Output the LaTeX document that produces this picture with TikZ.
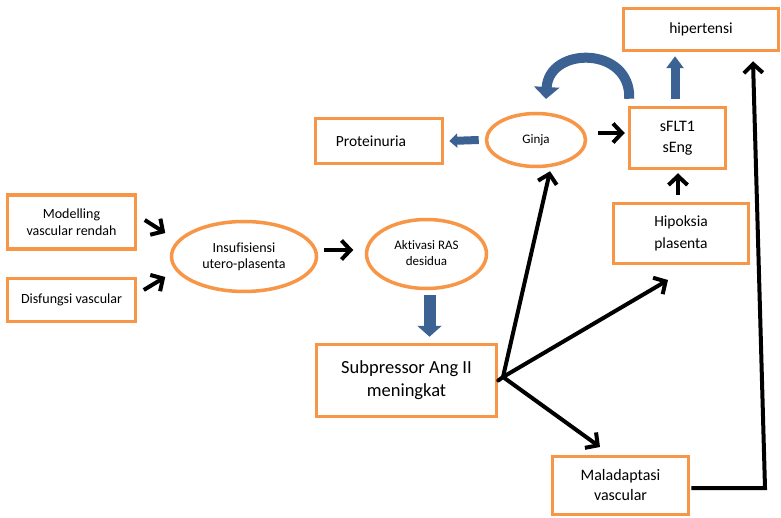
\documentclass[tikz,border=0pt]{standalone}
\usepackage{fontspec}
\setmainfont{Carlito}[Ligatures=NoCommon]
\usetikzlibrary{shapes.geometric,arrows.meta,calc}
\definecolor{orng}{RGB}{247,150,70}
\definecolor{blu}{RGB}{60,98,148}
\begin{document}
\begin{tikzpicture}[x=1pt,y=-1pt,
  box/.style={draw=orng,line width=3.5pt,fill=white,align=center,inner sep=0pt},
  oval/.style={ellipse,draw=orng,line width=3.5pt,fill=white,align=center,inner sep=0pt},
  arr/.style={line width=4pt,-{Straight Barb[length=9pt,width=19pt]}},
  bigblue/.style={draw=blu,line width=12pt,-{Triangle[width=24pt,length=11pt]}},
  smallblue/.style={draw=blu,line width=8pt,-{Triangle[width=14pt,length=8pt]}},
  upblue/.style={draw=blu,line width=9pt,-{Triangle[width=17pt,length=12pt]}},
  curvblue/.style={draw=blu,line width=10pt,-{Triangle[width=25pt,length=12pt]}}]
\useasboundingbox (0,0) rectangle (781,518);

% nodes
\node[box,minimum width=128pt,minimum height=54pt,font=\fontsize{14}{17}\selectfont] (mod) at (71.5,222) {Modelling\\vascular rendah};
\node[box,minimum width=128pt,minimum height=43pt,font=\fontsize{14}{17}\selectfont] (dis) at (71.5,300) {Disfungsi vascular};
\node[oval,minimum width=145pt,minimum height=70pt,font=\fontsize{14}{16}\selectfont] (insuf) at (244,256.5) {Insufisiensi\\utero-plasenta};
\node[oval,minimum width=120pt,minimum height=69pt,font=\fontsize{13}{16}\selectfont] (aktiv) at (426.5,254) {\raisebox{6pt}{\begin{tabular}{@{}c@{}}Aktivasi RAS\\desidua\end{tabular}}};
\node[box,minimum width=180pt,minimum height=72pt,font=\fontsize{18.5}{23}\selectfont] (subp) at (406.5,380.5) {Subpressor Ang II\\meningkat};
\node[box,minimum width=127pt,minimum height=45pt,font=\fontsize{15.5}{16}\selectfont] (prot) at (379,141) {Proteinuria\hspace*{16pt}};
\node[oval,minimum width=99pt,minimum height=53pt,font=\fontsize{13}{14}\selectfont] (ginja) at (536,140) {Ginja};
\node[box,minimum width=96pt,minimum height=61pt,font=\fontsize{16}{21}\selectfont] (sflt) at (677.5,138) {sFLT1\\sEng};
\node[box,minimum width=155pt,minimum height=42pt,font=\fontsize{15.5}{16}\selectfont] (hiper) at (701,29.5) {\raisebox{3pt}{hipertensi}};
\node[box,minimum width=135pt,minimum height=60pt,font=\fontsize{15.5}{22}\selectfont] (hipok) at (681,233.5) {Hipoksia\\plasenta};
\node[box,minimum width=136pt,minimum height=58pt,font=\fontsize{16}{20}\selectfont] (malad) at (620.5,485.5) {Maladaptasi\\vascular};

% black arrows
\draw[arr] ([shift={(7.5,-2)}]mod.east) -- ([shift={(-4.5,-23.5)}]insuf.west);
\draw[arr] ([shift={(6.5,-10)}]dis.east) -- ([shift={(-4.5,20.5)}]insuf.west);
\draw[arr] ([shift={(5.5,-6.5)}]insuf.east) -- ([shift={(-11.5,-4)}]aktiv.west);
\draw[arr] ([shift={(11,-7)}]ginja.east) -- ([shift={(-3,-5)}]sflt.west);
\draw[arr] ([shift={(-3,-7)}]hipok.north) -- ([shift={(-3,3)}]hipok.north |- sflt.south);

\coordinate (fan) at (503,377);
\coordinate (hipT) at (668,280);
\coordinate (malT) at (600,447);
\draw[arr,line cap=round] (subp.east) -- (fan) -- ([shift={(14,3)}]ginja.south);
\draw[arr,line cap=round] (fan) -- (hipT);
\draw[arr,line cap=round] (fan) -- (malT);

\coordinate (vline) at (765,488);
\draw[arr,line join=miter] ([xshift=1pt]malad.east |- vline) -- (vline) -- ([shift={(-12,9)}]hiper.south east -| vline);

% blue arrows
\draw[bigblue] ([shift={(3,5)}]aktiv.south) -- ([shift={(3,-6)}]aktiv.south |- subp.north);
\draw[smallblue] ([xshift=-6]ginja.west) -- ([xshift=5]prot.east);
\draw[upblue] ([shift={(-2.5,-7)}]sflt.north) -- ([shift={(-2.5,4)}]sflt.north |- hiper.south);
\coordinate (cstart) at ([shift={(1.5,-7)}]sflt.north west);
\coordinate (cend) at (546,99);
\draw[curvblue] (cstart) .. controls (631,46) and (549,46) .. (cend);
\end{tikzpicture}
\end{document}
